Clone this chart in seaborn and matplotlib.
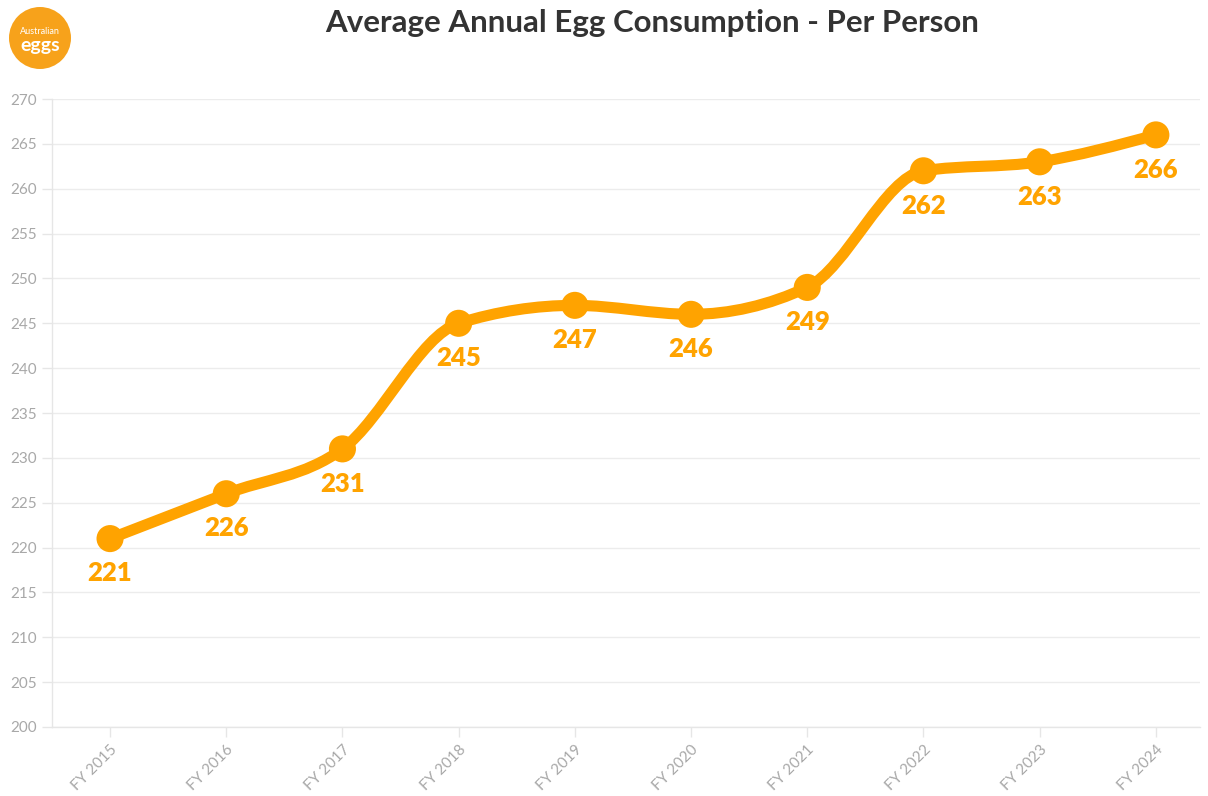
import numpy as np
import pandas as pd
import matplotlib
matplotlib.use("Agg")
import matplotlib.pyplot as plt
import seaborn as sns
from matplotlib.path import Path
from matplotlib.patches import PathPatch, Circle
from matplotlib.transforms import IdentityTransform

years = ["FY 2015", "FY 2016", "FY 2017", "FY 2018", "FY 2019",
         "FY 2020", "FY 2021", "FY 2022", "FY 2023", "FY 2024"]
eggs = [221, 226, 231, 245, 247, 246, 249, 262, 263, 266]

ORANGE = "#ffa300"
GREY = "#a8a8a8"

sns.set_theme(style="white")
plt.rcParams["font.family"] = ["Lato", "DejaVu Sans"]

df = pd.DataFrame({"year": years, "eggs": eggs})
df["pos"] = np.arange(len(df))


def monotone_path(x, y):
    # cubic bezier segments with monotone tangents (curve style of the line)
    x = np.asarray(x, float)
    y = np.asarray(y, float)
    h = np.diff(x)
    s = np.diff(y) / h
    m = np.zeros_like(y)
    for i in range(1, len(y) - 1):
        p = (s[i - 1] * h[i] + s[i] * h[i - 1]) / (h[i - 1] + h[i])
        m[i] = (np.sign(s[i - 1]) + np.sign(s[i])) * min(abs(s[i - 1]), abs(s[i]), 0.5 * abs(p))
    m[0] = (3 * s[0] - m[1]) / 2
    m[-1] = (3 * s[-1] - m[-2]) / 2
    verts = [(x[0], y[0])]
    codes = [Path.MOVETO]
    for i in range(len(x) - 1):
        d = h[i] / 3
        verts += [(x[i] + d, y[i] + m[i] * d),
                  (x[i + 1] - d, y[i + 1] - m[i + 1] * d),
                  (x[i + 1], y[i + 1])]
        codes += [Path.CURVE4] * 3
    return Path(verts, codes)


fig = plt.figure(figsize=(12.08, 7.96), dpi=100)
ax = fig.add_axes([0.043, 0.0867, 0.9504, 0.7889])

ax.add_patch(PathPatch(monotone_path(df["pos"], df["eggs"]), fill=False,
                       edgecolor=ORANGE, linewidth=8, capstyle="round",
                       joinstyle="round", zorder=3))
sns.scatterplot(data=df, x="pos", y="eggs", ax=ax, color=ORANGE, s=380,
                edgecolor="none", zorder=4, legend=False)

for _, r in df.iterrows():
    ax.annotate(str(r["eggs"]), (r["pos"], r["eggs"]), xytext=(0, -25),
                textcoords="offset points", ha="center", va="center",
                fontsize=18.5, fontweight="heavy", color=ORANGE, zorder=5)

ax.set_xlim(-0.5, 9.38)
ax.set_ylim(200, 270)
ax.set_yticks(np.arange(200, 271, 5))
ax.set_xticks(df["pos"])
ax.set_xticklabels(years, rotation=45, ha="right", rotation_mode="anchor")
ax.set_xlabel("")
ax.set_ylabel("")
ax.grid(axis="y", color="#ececec", linewidth=1)
ax.set_axisbelow(True)
for side in ["top", "right"]:
    ax.spines[side].set_visible(False)
for side in ["left", "bottom"]:
    ax.spines[side].set_color("#e6e6e6")
    ax.spines[side].set_linewidth(1)
ax.tick_params(axis="y", length=7, width=1, color="#e6e6e6", labelsize=11,
               labelcolor=GREY, pad=4, left=True)
ax.tick_params(axis="x", length=7, width=1, color="#e6e6e6", labelsize=11,
               labelcolor=GREY, pad=4, bottom=True)

fig.text(0.54, 0.971, "Average Annual Egg Consumption - Per Person",
         ha="center", va="center", fontsize=22.5, fontweight="bold",
         color="#333333")

# logo
logo = Circle((40, 796 - 38), 31, transform=IdentityTransform(),
              facecolor="#f7a21b", edgecolor="none")
fig.patches.append(logo)
fig.text(40 / 1208, 1 - 32 / 796, "Australian", ha="center", va="center",
         fontsize=6.5, color="white")
fig.text(40 / 1208, 1 - 46 / 796, "eggs", ha="center", va="center",
         fontsize=14, fontweight="bold", color="white")

fig.savefig("out.png", dpi=100)
